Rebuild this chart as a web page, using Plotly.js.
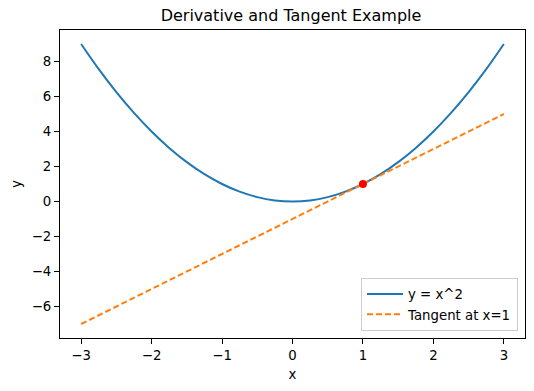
<!DOCTYPE html>
<html>
<head>
<meta charset="utf-8">
<script src="https://cdn.plot.ly/plotly-3.0.1.min.js"></script>
<style>html,body{margin:0;padding:0;background:#fff;}#chart{width:534px;height:391px;}</style>
</head>
<body>
<div id="chart"></div>
<script>
const curveX = [-3, -2.75, -2.5, -2.25, -2, -1.75, -1.5, -1.25, -1, -0.75, -0.5, -0.25, 0, 0.25, 0.5, 0.75, 1, 1.25, 1.5, 1.75, 2, 2.25, 2.5, 2.75, 3];
const curveY = [9, 7.5625, 6.25, 5.0625, 4, 3.0625, 2.25, 1.5625, 1, 0.5625, 0.25, 0.0625, 0, 0.0625, 0.25, 0.5625, 1, 1.5625, 2.25, 3.0625, 4, 5.0625, 6.25, 7.5625, 9];
const tangentX = [-3, 3];
const tangentY = [-7, 5];
const pointX = [1];
const pointY = [1];
const xTicks = [-3, -2, -1, 0, 1, 2, 3];
const yTicks = [-6, -4, -2, 0, 2, 4, 6, 8];

const font = {family: 'DejaVu Sans, sans-serif', size: 13.3, color: '#000'};

const traces = [
  {x: curveX, y: curveY, mode: 'lines', name: 'y = x^2',
   line: {color: '#1f77b4', width: 2, shape: 'spline', smoothing: 1}},
  {x: tangentX, y: tangentY, mode: 'lines', name: 'Tangent at x=1',
   line: {color: '#ff7f0e', width: 2, dash: '6px,3px'}},
  {x: pointX, y: pointY, mode: 'markers', showlegend: false,
   marker: {color: 'red', size: 8}}
];

const axisCommon = {
  showgrid: false, zeroline: false, showline: true, mirror: true,
  linecolor: '#000', linewidth: 1, ticks: 'outside', ticklen: 5, tickwidth: 1,
  tickcolor: '#000', tickfont: font
};

const layout = {
  width: 534, height: 391,
  margin: {l: 60, r: 9, t: 30, b: 53},
  paper_bgcolor: '#fff', plot_bgcolor: '#fff',
  font: font,
  title: {text: 'Derivative and Tangent Example', font: {family: 'DejaVu Sans, sans-serif', size: 16, color: '#000'},
          x: 0.545, xanchor: 'center', y: 0.96, yanchor: 'middle'},
  xaxis: Object.assign({}, axisCommon, {range: [-3.3, 3.3], tickvals: xTicks,
    title: {text: 'x', font: font, standoff: 7}}),
  yaxis: Object.assign({}, axisCommon, {range: [-7.8, 9.8], tickvals: yTicks,
    title: {text: 'y', font: font, standoff: 7}}),
  legend: {x: 0.985, y: 0.023, xanchor: 'right', yanchor: 'bottom',
    bgcolor: 'rgba(255,255,255,0.8)', bordercolor: '#cccccc', borderwidth: 1,
    font: font, tracegroupgap: 0, itemwidth: 36}
};

Plotly.newPlot('chart', traces, layout, {staticPlot: true});
</script>
</body>
</html>
